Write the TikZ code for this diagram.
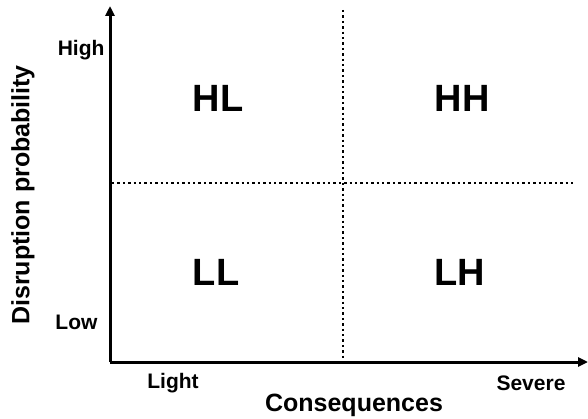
\documentclass[tikz,border=0pt]{standalone}
\usepackage{fontspec}
\setmainfont{Liberation Sans}
\usetikzlibrary{arrows.meta}

\tikzset{
  axis/.style={line width=3pt, -{Triangle[length=10pt, width=9pt]}},
  grid line/.style={line width=2.4pt, dash pattern=on 2.4pt off 3pt},
  quadrant/.style={font=\fontsize{38}{40}\selectfont\bfseries},
  ticklabel/.style={font=\fontsize{21}{23}\selectfont\bfseries},
  axislabel/.style={font=\fontsize{25}{27}\selectfont\bfseries}
}

\begin{document}
\begin{tikzpicture}[x=1pt, y=-1pt]
% canvas
\useasboundingbox (0,0) rectangle (588,419);

% Axes
\coordinate (origin) at (110,362);
\coordinate (ytop) at (110,6);
\coordinate (xend) at (588,362);
\draw[axis] (origin) -- (ytop);
\draw[axis] (origin) -- (xend);

% Dotted dividers
\coordinate (vtop) at (343,10);
\coordinate (vbot) at (343,361);
\coordinate (hleft) at (112,183);
\coordinate (hright) at (576,183);
\draw[grid line] (vtop) -- (vbot);
\draw[grid line] (hleft) -- (hright);

% Quadrant labels
\node[quadrant] (HL) at (218,98) {HL};
\node[quadrant] (HH) at (462,98) {HH};
\node[quadrant] (LL) at (216,272) {LL};
\node[quadrant] (LH) at (460,272) {LH};

% Tick labels
\node[ticklabel, anchor=east] (high) at (108,50) {High};
\node[ticklabel, anchor=east] (low) at (101,322) {Low};
\node[ticklabel] (light) at (173,383) {Light};
\node[ticklabel] (severe) at (531,383) {Severe};

% Axis titles
\node[axislabel] (xtitle) at (354,405) {Consequences};
\node[axislabel, rotate=90] (ytitle) at (23,195) {Disruption probability};
\end{tikzpicture}
\end{document}
